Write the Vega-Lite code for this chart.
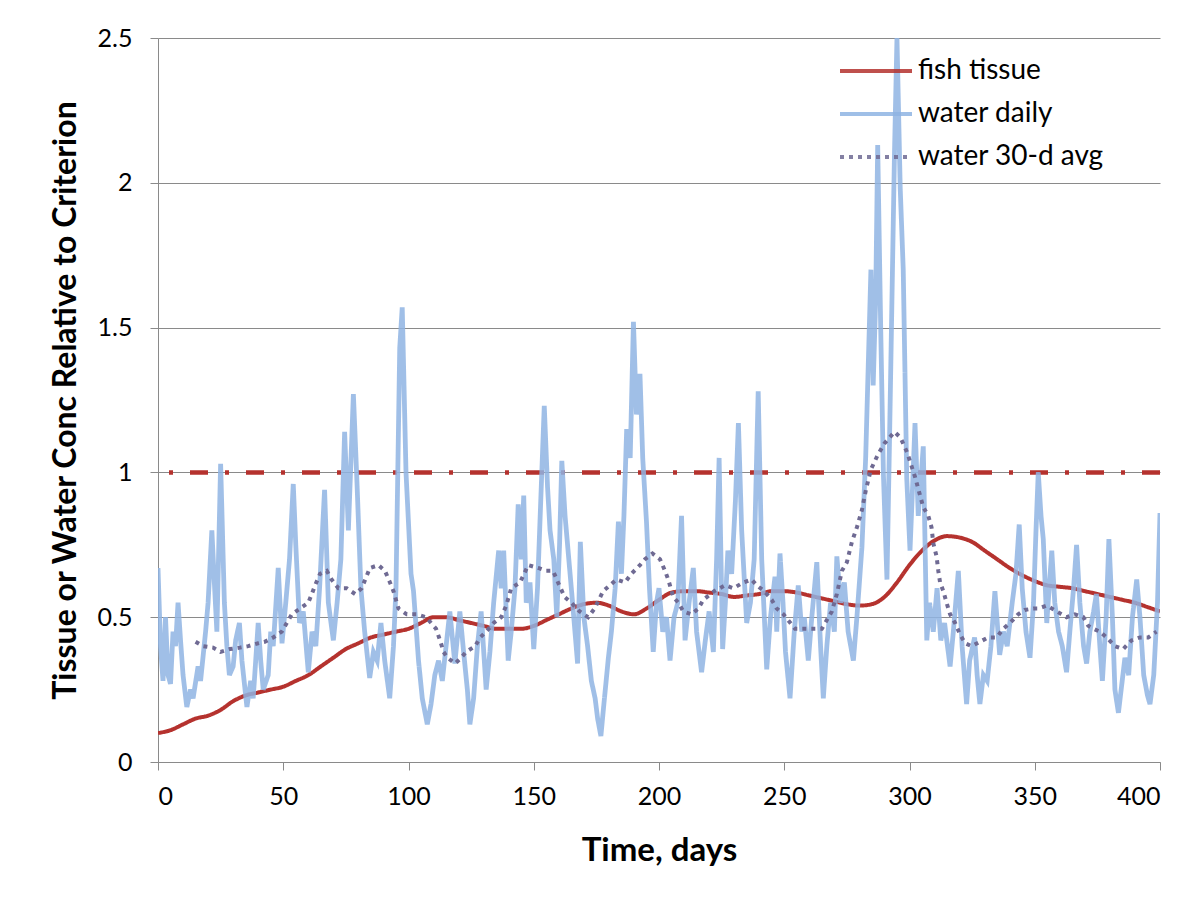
{
  "$schema": "https://vega.github.io/schema/vega-lite/v6.json",
  "width": 1002,
  "height": 724,
  "autosize": {"type": "none"},
  "padding": {"left": 158, "top": 38, "right": 44, "bottom": 137},
  "background": "white",
  "config": {
    "font": "Lato",
    "view": {"stroke": null},
    "axis": {
      "domainColor": "#8a8a8a",
      "tickColor": "#8a8a8a",
      "gridColor": "#8a8a8a",
      "labelColor": "#000000",
      "titleColor": "#000000",
      "labelFont": "Lato",
      "titleFont": "Lato",
      "labelFontSize": 25,
      "titleFontWeight": "bold",
      "tickSize": 8
    },
    "axisX": {"grid": false, "labelPadding": 14, "titlePadding": 25, "titleFontSize": 33},
    "axisY": {"grid": true, "labelPadding": 18, "titlePadding": 15, "titleFontSize": 32},
    "legend": {
      "orient": "none",
      "legendX": 704,
      "legendY": 19,
      "title": null,
      "labelFontSize": 28,
      "labelLimit": 400,
      "labelColor": "#000000",
      "labelFont": "Lato",
      "symbolType": "M-3,0H3",
      "symbolSize": 576,
      "symbolStrokeWidth": 4,
      "labelOffset": 28,
      "rowPadding": 15
    }
  },
  "datasets": {
    "criterion": [{"series": "criterion", "value": 1}],
    "fish": [
      {"series": "fish tissue", "day": 0, "value": 0.10},
      {"series": "fish tissue", "day": 5, "value": 0.11},
      {"series": "fish tissue", "day": 10, "value": 0.13},
      {"series": "fish tissue", "day": 15, "value": 0.15},
      {"series": "fish tissue", "day": 20, "value": 0.16},
      {"series": "fish tissue", "day": 25, "value": 0.18},
      {"series": "fish tissue", "day": 30, "value": 0.21},
      {"series": "fish tissue", "day": 35, "value": 0.23},
      {"series": "fish tissue", "day": 40, "value": 0.24},
      {"series": "fish tissue", "day": 45, "value": 0.25},
      {"series": "fish tissue", "day": 50, "value": 0.26},
      {"series": "fish tissue", "day": 55, "value": 0.28},
      {"series": "fish tissue", "day": 60, "value": 0.30},
      {"series": "fish tissue", "day": 65, "value": 0.33},
      {"series": "fish tissue", "day": 70, "value": 0.36},
      {"series": "fish tissue", "day": 75, "value": 0.39},
      {"series": "fish tissue", "day": 80, "value": 0.41},
      {"series": "fish tissue", "day": 85, "value": 0.43},
      {"series": "fish tissue", "day": 90, "value": 0.44},
      {"series": "fish tissue", "day": 95, "value": 0.45},
      {"series": "fish tissue", "day": 100, "value": 0.46},
      {"series": "fish tissue", "day": 105, "value": 0.48},
      {"series": "fish tissue", "day": 110, "value": 0.50},
      {"series": "fish tissue", "day": 115, "value": 0.50},
      {"series": "fish tissue", "day": 120, "value": 0.49},
      {"series": "fish tissue", "day": 125, "value": 0.48},
      {"series": "fish tissue", "day": 130, "value": 0.47},
      {"series": "fish tissue", "day": 135, "value": 0.46},
      {"series": "fish tissue", "day": 140, "value": 0.46},
      {"series": "fish tissue", "day": 145, "value": 0.46},
      {"series": "fish tissue", "day": 150, "value": 0.47},
      {"series": "fish tissue", "day": 155, "value": 0.49},
      {"series": "fish tissue", "day": 160, "value": 0.51},
      {"series": "fish tissue", "day": 165, "value": 0.53},
      {"series": "fish tissue", "day": 170, "value": 0.545},
      {"series": "fish tissue", "day": 175, "value": 0.55},
      {"series": "fish tissue", "day": 180, "value": 0.54},
      {"series": "fish tissue", "day": 185, "value": 0.52},
      {"series": "fish tissue", "day": 190, "value": 0.51},
      {"series": "fish tissue", "day": 195, "value": 0.53},
      {"series": "fish tissue", "day": 200, "value": 0.56},
      {"series": "fish tissue", "day": 205, "value": 0.585},
      {"series": "fish tissue", "day": 210, "value": 0.59},
      {"series": "fish tissue", "day": 215, "value": 0.59},
      {"series": "fish tissue", "day": 220, "value": 0.585},
      {"series": "fish tissue", "day": 225, "value": 0.58},
      {"series": "fish tissue", "day": 230, "value": 0.57},
      {"series": "fish tissue", "day": 235, "value": 0.575},
      {"series": "fish tissue", "day": 240, "value": 0.58},
      {"series": "fish tissue", "day": 245, "value": 0.59},
      {"series": "fish tissue", "day": 250, "value": 0.59},
      {"series": "fish tissue", "day": 255, "value": 0.585},
      {"series": "fish tissue", "day": 260, "value": 0.575},
      {"series": "fish tissue", "day": 265, "value": 0.565},
      {"series": "fish tissue", "day": 270, "value": 0.555},
      {"series": "fish tissue", "day": 275, "value": 0.545},
      {"series": "fish tissue", "day": 280, "value": 0.54},
      {"series": "fish tissue", "day": 285, "value": 0.545},
      {"series": "fish tissue", "day": 290, "value": 0.57},
      {"series": "fish tissue", "day": 295, "value": 0.62},
      {"series": "fish tissue", "day": 300, "value": 0.68},
      {"series": "fish tissue", "day": 305, "value": 0.73},
      {"series": "fish tissue", "day": 310, "value": 0.765},
      {"series": "fish tissue", "day": 315, "value": 0.78},
      {"series": "fish tissue", "day": 320, "value": 0.775},
      {"series": "fish tissue", "day": 325, "value": 0.76},
      {"series": "fish tissue", "day": 330, "value": 0.73},
      {"series": "fish tissue", "day": 335, "value": 0.70},
      {"series": "fish tissue", "day": 340, "value": 0.67},
      {"series": "fish tissue", "day": 345, "value": 0.645},
      {"series": "fish tissue", "day": 350, "value": 0.625},
      {"series": "fish tissue", "day": 355, "value": 0.61},
      {"series": "fish tissue", "day": 360, "value": 0.605},
      {"series": "fish tissue", "day": 365, "value": 0.60},
      {"series": "fish tissue", "day": 370, "value": 0.59},
      {"series": "fish tissue", "day": 375, "value": 0.58},
      {"series": "fish tissue", "day": 380, "value": 0.57},
      {"series": "fish tissue", "day": 385, "value": 0.56},
      {"series": "fish tissue", "day": 390, "value": 0.55},
      {"series": "fish tissue", "day": 395, "value": 0.535},
      {"series": "fish tissue", "day": 400, "value": 0.52}
    ],
    "daily": [
      {"series": "water daily", "day": 0, "value": 0.67},
      {"series": "water daily", "day": 1, "value": 0.40},
      {"series": "water daily", "day": 2, "value": 0.28},
      {"series": "water daily", "day": 3, "value": 0.50},
      {"series": "water daily", "day": 4, "value": 0.30},
      {"series": "water daily", "day": 5, "value": 0.27},
      {"series": "water daily", "day": 6, "value": 0.45},
      {"series": "water daily", "day": 7, "value": 0.40},
      {"series": "water daily", "day": 8, "value": 0.55},
      {"series": "water daily", "day": 9, "value": 0.42},
      {"series": "water daily", "day": 10, "value": 0.30},
      {"series": "water daily", "day": 11.5, "value": 0.19},
      {"series": "water daily", "day": 13, "value": 0.25},
      {"series": "water daily", "day": 14, "value": 0.22},
      {"series": "water daily", "day": 16, "value": 0.33},
      {"series": "water daily", "day": 17, "value": 0.28},
      {"series": "water daily", "day": 19, "value": 0.45},
      {"series": "water daily", "day": 20, "value": 0.55},
      {"series": "water daily", "day": 21.5, "value": 0.80},
      {"series": "water daily", "day": 22.5, "value": 0.62},
      {"series": "water daily", "day": 23.5, "value": 0.45},
      {"series": "water daily", "day": 25, "value": 1.03},
      {"series": "water daily", "day": 26.5, "value": 0.55},
      {"series": "water daily", "day": 27.5, "value": 0.40},
      {"series": "water daily", "day": 28.5, "value": 0.30},
      {"series": "water daily", "day": 30, "value": 0.33},
      {"series": "water daily", "day": 31, "value": 0.42},
      {"series": "water daily", "day": 32.5, "value": 0.48},
      {"series": "water daily", "day": 33.5, "value": 0.35},
      {"series": "water daily", "day": 35.5, "value": 0.19},
      {"series": "water daily", "day": 37, "value": 0.28},
      {"series": "water daily", "day": 38, "value": 0.22},
      {"series": "water daily", "day": 40, "value": 0.48},
      {"series": "water daily", "day": 41, "value": 0.35},
      {"series": "water daily", "day": 42, "value": 0.25},
      {"series": "water daily", "day": 44, "value": 0.30},
      {"series": "water daily", "day": 45, "value": 0.45},
      {"series": "water daily", "day": 46, "value": 0.40},
      {"series": "water daily", "day": 48, "value": 0.67},
      {"series": "water daily", "day": 49.5, "value": 0.41},
      {"series": "water daily", "day": 51, "value": 0.55},
      {"series": "water daily", "day": 52.5, "value": 0.70},
      {"series": "water daily", "day": 54, "value": 0.96},
      {"series": "water daily", "day": 55, "value": 0.75},
      {"series": "water daily", "day": 56.5, "value": 0.48},
      {"series": "water daily", "day": 58, "value": 0.52},
      {"series": "water daily", "day": 60, "value": 0.31},
      {"series": "water daily", "day": 61.5, "value": 0.45},
      {"series": "water daily", "day": 63, "value": 0.40},
      {"series": "water daily", "day": 64.5, "value": 0.60},
      {"series": "water daily", "day": 66.5, "value": 0.94},
      {"series": "water daily", "day": 68, "value": 0.55},
      {"series": "water daily", "day": 70, "value": 0.42},
      {"series": "water daily", "day": 71.5, "value": 0.55},
      {"series": "water daily", "day": 73, "value": 0.70},
      {"series": "water daily", "day": 74.5, "value": 1.14},
      {"series": "water daily", "day": 76, "value": 0.80},
      {"series": "water daily", "day": 78, "value": 1.27},
      {"series": "water daily", "day": 79.5, "value": 0.95},
      {"series": "water daily", "day": 81, "value": 0.60},
      {"series": "water daily", "day": 82.5, "value": 0.45},
      {"series": "water daily", "day": 84.5, "value": 0.29},
      {"series": "water daily", "day": 86, "value": 0.38},
      {"series": "water daily", "day": 87.5, "value": 0.35},
      {"series": "water daily", "day": 89, "value": 0.48},
      {"series": "water daily", "day": 90.5, "value": 0.35},
      {"series": "water daily", "day": 92.5, "value": 0.22},
      {"series": "water daily", "day": 94, "value": 0.40},
      {"series": "water daily", "day": 95, "value": 0.60},
      {"series": "water daily", "day": 96.5, "value": 1.43},
      {"series": "water daily", "day": 97.5, "value": 1.57},
      {"series": "water daily", "day": 99, "value": 1.00},
      {"series": "water daily", "day": 101, "value": 0.65},
      {"series": "water daily", "day": 102, "value": 0.59},
      {"series": "water daily", "day": 104, "value": 0.35},
      {"series": "water daily", "day": 105.5, "value": 0.22},
      {"series": "water daily", "day": 107.5, "value": 0.13},
      {"series": "water daily", "day": 109, "value": 0.20},
      {"series": "water daily", "day": 110.5, "value": 0.30},
      {"series": "water daily", "day": 112, "value": 0.35},
      {"series": "water daily", "day": 113.5, "value": 0.28},
      {"series": "water daily", "day": 115, "value": 0.40},
      {"series": "water daily", "day": 116.5, "value": 0.52},
      {"series": "water daily", "day": 118.5, "value": 0.34},
      {"series": "water daily", "day": 120.5, "value": 0.52},
      {"series": "water daily", "day": 122, "value": 0.38},
      {"series": "water daily", "day": 123.5, "value": 0.25},
      {"series": "water daily", "day": 124.5, "value": 0.13},
      {"series": "water daily", "day": 126, "value": 0.22},
      {"series": "water daily", "day": 127.5, "value": 0.40},
      {"series": "water daily", "day": 129, "value": 0.52},
      {"series": "water daily", "day": 131, "value": 0.25},
      {"series": "water daily", "day": 132.5, "value": 0.38},
      {"series": "water daily", "day": 134, "value": 0.55},
      {"series": "water daily", "day": 136, "value": 0.73},
      {"series": "water daily", "day": 137, "value": 0.60},
      {"series": "water daily", "day": 138, "value": 0.73},
      {"series": "water daily", "day": 139.8, "value": 0.35},
      {"series": "water daily", "day": 141, "value": 0.45},
      {"series": "water daily", "day": 142.5, "value": 0.60},
      {"series": "water daily", "day": 143.8, "value": 0.89},
      {"series": "water daily", "day": 145, "value": 0.70},
      {"series": "water daily", "day": 146, "value": 0.92},
      {"series": "water daily", "day": 147, "value": 0.55},
      {"series": "water daily", "day": 148.5, "value": 0.62},
      {"series": "water daily", "day": 150, "value": 0.39},
      {"series": "water daily", "day": 151.5, "value": 0.60},
      {"series": "water daily", "day": 153, "value": 0.95},
      {"series": "water daily", "day": 154.2, "value": 1.23},
      {"series": "water daily", "day": 155.5, "value": 0.95},
      {"series": "water daily", "day": 156.5, "value": 0.80},
      {"series": "water daily", "day": 158, "value": 0.70},
      {"series": "water daily", "day": 159.2, "value": 0.50},
      {"series": "water daily", "day": 160.3, "value": 0.75},
      {"series": "water daily", "day": 161.2, "value": 1.04},
      {"series": "water daily", "day": 162.5, "value": 0.85},
      {"series": "water daily", "day": 164, "value": 0.70},
      {"series": "water daily", "day": 165.5, "value": 0.55},
      {"series": "water daily", "day": 167.5, "value": 0.34},
      {"series": "water daily", "day": 168.6, "value": 0.76},
      {"series": "water daily", "day": 170, "value": 0.50},
      {"series": "water daily", "day": 171.5, "value": 0.40},
      {"series": "water daily", "day": 173, "value": 0.28},
      {"series": "water daily", "day": 174.5, "value": 0.22},
      {"series": "water daily", "day": 175.5, "value": 0.15},
      {"series": "water daily", "day": 176.8, "value": 0.09},
      {"series": "water daily", "day": 178, "value": 0.20},
      {"series": "water daily", "day": 179.8, "value": 0.36},
      {"series": "water daily", "day": 181, "value": 0.45},
      {"series": "water daily", "day": 182.5, "value": 0.60},
      {"series": "water daily", "day": 183.8, "value": 0.83},
      {"series": "water daily", "day": 185, "value": 0.65},
      {"series": "water daily", "day": 186, "value": 0.85},
      {"series": "water daily", "day": 187.1, "value": 1.15},
      {"series": "water daily", "day": 188.5, "value": 1.05},
      {"series": "water daily", "day": 189.8, "value": 1.52},
      {"series": "water daily", "day": 191, "value": 1.20},
      {"series": "water daily", "day": 192.4, "value": 1.34},
      {"series": "water daily", "day": 193.5, "value": 1.05},
      {"series": "water daily", "day": 195, "value": 0.83},
      {"series": "water daily", "day": 196.2, "value": 0.60},
      {"series": "water daily", "day": 197.7, "value": 0.38},
      {"series": "water daily", "day": 199, "value": 0.55},
      {"series": "water daily", "day": 200, "value": 0.60},
      {"series": "water daily", "day": 201.5, "value": 0.45},
      {"series": "water daily", "day": 203, "value": 0.50},
      {"series": "water daily", "day": 204.4, "value": 0.35},
      {"series": "water daily", "day": 206, "value": 0.50},
      {"series": "water daily", "day": 207.5, "value": 0.55},
      {"series": "water daily", "day": 209, "value": 0.85},
      {"series": "water daily", "day": 210.4, "value": 0.42},
      {"series": "water daily", "day": 212, "value": 0.55},
      {"series": "water daily", "day": 213.7, "value": 0.67},
      {"series": "water daily", "day": 215, "value": 0.45},
      {"series": "water daily", "day": 217, "value": 0.31},
      {"series": "water daily", "day": 218.5, "value": 0.42},
      {"series": "water daily", "day": 220, "value": 0.52},
      {"series": "water daily", "day": 221.7, "value": 0.38},
      {"series": "water daily", "day": 223, "value": 0.70},
      {"series": "water daily", "day": 224, "value": 1.05},
      {"series": "water daily", "day": 225.4, "value": 0.39},
      {"series": "water daily", "day": 226.5, "value": 0.55},
      {"series": "water daily", "day": 227.5, "value": 0.73},
      {"series": "water daily", "day": 229, "value": 0.65},
      {"series": "water daily", "day": 230.5, "value": 0.90},
      {"series": "water daily", "day": 231.7, "value": 1.17},
      {"series": "water daily", "day": 233, "value": 0.80},
      {"series": "water daily", "day": 235, "value": 0.48},
      {"series": "water daily", "day": 236.5, "value": 0.55},
      {"series": "water daily", "day": 238, "value": 0.70},
      {"series": "water daily", "day": 239.6, "value": 1.28},
      {"series": "water daily", "day": 241, "value": 0.70},
      {"series": "water daily", "day": 243, "value": 0.32},
      {"series": "water daily", "day": 244.5, "value": 0.50},
      {"series": "water daily", "day": 246.3, "value": 0.64},
      {"series": "water daily", "day": 247, "value": 0.45},
      {"series": "water daily", "day": 248.3, "value": 0.72},
      {"series": "water daily", "day": 249.5, "value": 0.55},
      {"series": "water daily", "day": 250.5, "value": 0.38},
      {"series": "water daily", "day": 252.3, "value": 0.22},
      {"series": "water daily", "day": 254, "value": 0.45},
      {"series": "water daily", "day": 255.6, "value": 0.61},
      {"series": "water daily", "day": 257, "value": 0.45},
      {"series": "water daily", "day": 258, "value": 0.50},
      {"series": "water daily", "day": 259.6, "value": 0.35},
      {"series": "water daily", "day": 261, "value": 0.50},
      {"series": "water daily", "day": 263, "value": 0.69},
      {"series": "water daily", "day": 264.5, "value": 0.40},
      {"series": "water daily", "day": 265.6, "value": 0.22},
      {"series": "water daily", "day": 267, "value": 0.40},
      {"series": "water daily", "day": 268.5, "value": 0.55},
      {"series": "water daily", "day": 270, "value": 0.45},
      {"series": "water daily", "day": 271, "value": 0.71},
      {"series": "water daily", "day": 272.5, "value": 0.55},
      {"series": "water daily", "day": 274, "value": 0.62},
      {"series": "water daily", "day": 275.5, "value": 0.45},
      {"series": "water daily", "day": 277.6, "value": 0.35},
      {"series": "water daily", "day": 279, "value": 0.50},
      {"series": "water daily", "day": 281, "value": 0.74},
      {"series": "water daily", "day": 282.5, "value": 1.05},
      {"series": "water daily", "day": 283.6, "value": 1.39},
      {"series": "water daily", "day": 284.6, "value": 1.70},
      {"series": "water daily", "day": 285.5, "value": 1.30},
      {"series": "water daily", "day": 286.5, "value": 1.60},
      {"series": "water daily", "day": 287.3, "value": 2.13},
      {"series": "water daily", "day": 288.5, "value": 1.50},
      {"series": "water daily", "day": 289.6, "value": 0.99},
      {"series": "water daily", "day": 291, "value": 0.63},
      {"series": "water daily", "day": 292, "value": 1.10},
      {"series": "water daily", "day": 293, "value": 1.60},
      {"series": "water daily", "day": 294, "value": 2.10},
      {"series": "water daily", "day": 295, "value": 2.50},
      {"series": "water daily", "day": 296.3, "value": 1.98},
      {"series": "water daily", "day": 297.5, "value": 1.70},
      {"series": "water daily", "day": 298.9, "value": 0.98},
      {"series": "water daily", "day": 300.2, "value": 0.73},
      {"series": "water daily", "day": 301, "value": 0.90},
      {"series": "water daily", "day": 302.2, "value": 1.17},
      {"series": "water daily", "day": 303.5, "value": 0.85},
      {"series": "water daily", "day": 305.5, "value": 1.09},
      {"series": "water daily", "day": 306.9, "value": 0.42},
      {"series": "water daily", "day": 308, "value": 0.55},
      {"series": "water daily", "day": 309.5, "value": 0.45},
      {"series": "water daily", "day": 311, "value": 0.60},
      {"series": "water daily", "day": 312.5, "value": 0.42},
      {"series": "water daily", "day": 314, "value": 0.48},
      {"series": "water daily", "day": 316.2, "value": 0.33},
      {"series": "water daily", "day": 317.5, "value": 0.45},
      {"series": "water daily", "day": 319.5, "value": 0.66},
      {"series": "water daily", "day": 321, "value": 0.40},
      {"series": "water daily", "day": 322.8, "value": 0.20},
      {"series": "water daily", "day": 324, "value": 0.35},
      {"series": "water daily", "day": 326, "value": 0.43},
      {"series": "water daily", "day": 327, "value": 0.30},
      {"series": "water daily", "day": 328.1, "value": 0.20},
      {"series": "water daily", "day": 329.5, "value": 0.30},
      {"series": "water daily", "day": 331, "value": 0.28},
      {"series": "water daily", "day": 332.5, "value": 0.40},
      {"series": "water daily", "day": 334.1, "value": 0.59},
      {"series": "water daily", "day": 336, "value": 0.37},
      {"series": "water daily", "day": 337.5, "value": 0.45},
      {"series": "water daily", "day": 339, "value": 0.40},
      {"series": "water daily", "day": 341, "value": 0.55},
      {"series": "water daily", "day": 342.5, "value": 0.65},
      {"series": "water daily", "day": 343.8, "value": 0.82},
      {"series": "water daily", "day": 345, "value": 0.60},
      {"series": "water daily", "day": 346.5, "value": 0.45},
      {"series": "water daily", "day": 348.1, "value": 0.36},
      {"series": "water daily", "day": 349.5, "value": 0.55},
      {"series": "water daily", "day": 350.5, "value": 0.80},
      {"series": "water daily", "day": 351.4, "value": 1.00},
      {"series": "water daily", "day": 352.5, "value": 0.85},
      {"series": "water daily", "day": 353.4, "value": 0.77},
      {"series": "water daily", "day": 354.8, "value": 0.48},
      {"series": "water daily", "day": 356.8, "value": 0.73},
      {"series": "water daily", "day": 358, "value": 0.55},
      {"series": "water daily", "day": 359.5, "value": 0.45},
      {"series": "water daily", "day": 361, "value": 0.40},
      {"series": "water daily", "day": 362.7, "value": 0.31},
      {"series": "water daily", "day": 364, "value": 0.45},
      {"series": "water daily", "day": 365.5, "value": 0.60},
      {"series": "water daily", "day": 366.7, "value": 0.75},
      {"series": "water daily", "day": 368, "value": 0.55},
      {"series": "water daily", "day": 369.5, "value": 0.40},
      {"series": "water daily", "day": 370.7, "value": 0.34},
      {"series": "water daily", "day": 372, "value": 0.45},
      {"series": "water daily", "day": 373.5, "value": 0.52},
      {"series": "water daily", "day": 374.6, "value": 0.58},
      {"series": "water daily", "day": 376, "value": 0.40},
      {"series": "water daily", "day": 377, "value": 0.28},
      {"series": "water daily", "day": 378.5, "value": 0.50},
      {"series": "water daily", "day": 379.6, "value": 0.77},
      {"series": "water daily", "day": 381, "value": 0.50},
      {"series": "water daily", "day": 382, "value": 0.25},
      {"series": "water daily", "day": 383.4, "value": 0.17},
      {"series": "water daily", "day": 384.5, "value": 0.25},
      {"series": "water daily", "day": 386, "value": 0.36},
      {"series": "water daily", "day": 387.5, "value": 0.30},
      {"series": "water daily", "day": 389, "value": 0.50},
      {"series": "water daily", "day": 390.7, "value": 0.63},
      {"series": "water daily", "day": 392, "value": 0.50},
      {"series": "water daily", "day": 393.5, "value": 0.30},
      {"series": "water daily", "day": 395, "value": 0.23},
      {"series": "water daily", "day": 396, "value": 0.20},
      {"series": "water daily", "day": 397.5, "value": 0.30},
      {"series": "water daily", "day": 399, "value": 0.55},
      {"series": "water daily", "day": 400, "value": 0.86}
    ],
    "avg": [
      {"series": "water 30-d avg", "day": 15, "value": 0.415},
      {"series": "water 30-d avg", "day": 18, "value": 0.40},
      {"series": "water 30-d avg", "day": 22, "value": 0.395},
      {"series": "water 30-d avg", "day": 25, "value": 0.38},
      {"series": "water 30-d avg", "day": 28.7, "value": 0.39},
      {"series": "water 30-d avg", "day": 32.7, "value": 0.395},
      {"series": "water 30-d avg", "day": 36, "value": 0.40},
      {"series": "water 30-d avg", "day": 40, "value": 0.41},
      {"series": "water 30-d avg", "day": 42.6, "value": 0.415},
      {"series": "water 30-d avg", "day": 46, "value": 0.43},
      {"series": "water 30-d avg", "day": 49.4, "value": 0.45},
      {"series": "water 30-d avg", "day": 51.4, "value": 0.48},
      {"series": "water 30-d avg", "day": 53.4, "value": 0.51},
      {"series": "water 30-d avg", "day": 56.7, "value": 0.53},
      {"series": "water 30-d avg", "day": 60, "value": 0.55},
      {"series": "water 30-d avg", "day": 61.4, "value": 0.58},
      {"series": "water 30-d avg", "day": 62.7, "value": 0.61},
      {"series": "water 30-d avg", "day": 64.7, "value": 0.65},
      {"series": "water 30-d avg", "day": 67.4, "value": 0.66},
      {"series": "water 30-d avg", "day": 69.3, "value": 0.63},
      {"series": "water 30-d avg", "day": 72, "value": 0.60},
      {"series": "water 30-d avg", "day": 75.3, "value": 0.60},
      {"series": "water 30-d avg", "day": 78.7, "value": 0.58},
      {"series": "water 30-d avg", "day": 81.3, "value": 0.60},
      {"series": "water 30-d avg", "day": 84.6, "value": 0.67},
      {"series": "water 30-d avg", "day": 88, "value": 0.68},
      {"series": "water 30-d avg", "day": 90.6, "value": 0.66},
      {"series": "water 30-d avg", "day": 92.6, "value": 0.62},
      {"series": "water 30-d avg", "day": 94, "value": 0.59},
      {"series": "water 30-d avg", "day": 96, "value": 0.53},
      {"series": "water 30-d avg", "day": 99.3, "value": 0.51},
      {"series": "water 30-d avg", "day": 103.4, "value": 0.51},
      {"series": "water 30-d avg", "day": 107, "value": 0.50},
      {"series": "water 30-d avg", "day": 111, "value": 0.46},
      {"series": "water 30-d avg", "day": 112.6, "value": 0.42},
      {"series": "water 30-d avg", "day": 114, "value": 0.38},
      {"series": "water 30-d avg", "day": 115.6, "value": 0.36},
      {"series": "water 30-d avg", "day": 118.6, "value": 0.34},
      {"series": "water 30-d avg", "day": 121, "value": 0.36},
      {"series": "water 30-d avg", "day": 123, "value": 0.38},
      {"series": "water 30-d avg", "day": 126.6, "value": 0.40},
      {"series": "water 30-d avg", "day": 128.6, "value": 0.43},
      {"series": "water 30-d avg", "day": 131, "value": 0.45},
      {"series": "water 30-d avg", "day": 134, "value": 0.48},
      {"series": "water 30-d avg", "day": 137, "value": 0.50},
      {"series": "water 30-d avg", "day": 139, "value": 0.54},
      {"series": "water 30-d avg", "day": 141, "value": 0.60},
      {"series": "water 30-d avg", "day": 144.5, "value": 0.62},
      {"series": "water 30-d avg", "day": 147.8, "value": 0.68},
      {"series": "water 30-d avg", "day": 151.8, "value": 0.67},
      {"series": "water 30-d avg", "day": 155, "value": 0.66},
      {"series": "water 30-d avg", "day": 157.7, "value": 0.66},
      {"series": "water 30-d avg", "day": 159.7, "value": 0.62},
      {"series": "water 30-d avg", "day": 162.3, "value": 0.57},
      {"series": "water 30-d avg", "day": 165, "value": 0.55},
      {"series": "water 30-d avg", "day": 168.3, "value": 0.52},
      {"series": "water 30-d avg", "day": 171.7, "value": 0.50},
      {"series": "water 30-d avg", "day": 174.3, "value": 0.53},
      {"series": "water 30-d avg", "day": 177.7, "value": 0.59},
      {"series": "water 30-d avg", "day": 180.4, "value": 0.61},
      {"series": "water 30-d avg", "day": 183, "value": 0.63},
      {"series": "water 30-d avg", "day": 186.4, "value": 0.62},
      {"series": "water 30-d avg", "day": 189, "value": 0.65},
      {"series": "water 30-d avg", "day": 192.4, "value": 0.68},
      {"series": "water 30-d avg", "day": 194.4, "value": 0.70},
      {"series": "water 30-d avg", "day": 197.4, "value": 0.72},
      {"series": "water 30-d avg", "day": 200.4, "value": 0.70},
      {"series": "water 30-d avg", "day": 202.4, "value": 0.66},
      {"series": "water 30-d avg", "day": 203.7, "value": 0.63},
      {"series": "water 30-d avg", "day": 205.7, "value": 0.57},
      {"series": "water 30-d avg", "day": 207.7, "value": 0.55},
      {"series": "water 30-d avg", "day": 209.7, "value": 0.52},
      {"series": "water 30-d avg", "day": 213, "value": 0.51},
      {"series": "water 30-d avg", "day": 215.7, "value": 0.53},
      {"series": "water 30-d avg", "day": 217.7, "value": 0.56},
      {"series": "water 30-d avg", "day": 222, "value": 0.59},
      {"series": "water 30-d avg", "day": 226.4, "value": 0.61},
      {"series": "water 30-d avg", "day": 229.7, "value": 0.60},
      {"series": "water 30-d avg", "day": 233.7, "value": 0.62},
      {"series": "water 30-d avg", "day": 237, "value": 0.63},
      {"series": "water 30-d avg", "day": 239, "value": 0.61},
      {"series": "water 30-d avg", "day": 242, "value": 0.59},
      {"series": "water 30-d avg", "day": 245, "value": 0.56},
      {"series": "water 30-d avg", "day": 247, "value": 0.53},
      {"series": "water 30-d avg", "day": 249.7, "value": 0.51},
      {"series": "water 30-d avg", "day": 254.3, "value": 0.46},
      {"series": "water 30-d avg", "day": 257.6, "value": 0.46},
      {"series": "water 30-d avg", "day": 261.6, "value": 0.46},
      {"series": "water 30-d avg", "day": 265, "value": 0.46},
      {"series": "water 30-d avg", "day": 269, "value": 0.52},
      {"series": "water 30-d avg", "day": 271, "value": 0.58},
      {"series": "water 30-d avg", "day": 273, "value": 0.66},
      {"series": "water 30-d avg", "day": 275, "value": 0.69},
      {"series": "water 30-d avg", "day": 277, "value": 0.76},
      {"series": "water 30-d avg", "day": 279, "value": 0.81},
      {"series": "water 30-d avg", "day": 281, "value": 0.87},
      {"series": "water 30-d avg", "day": 282.6, "value": 0.94},
      {"series": "water 30-d avg", "day": 284.6, "value": 1.01},
      {"series": "water 30-d avg", "day": 287.3, "value": 1.06},
      {"series": "water 30-d avg", "day": 290, "value": 1.10},
      {"series": "water 30-d avg", "day": 294, "value": 1.14},
      {"series": "water 30-d avg", "day": 296.4, "value": 1.12},
      {"series": "water 30-d avg", "day": 299, "value": 1.07},
      {"series": "water 30-d avg", "day": 302.2, "value": 0.985},
      {"series": "water 30-d avg", "day": 303.6, "value": 0.94},
      {"series": "water 30-d avg", "day": 305.5, "value": 0.88},
      {"series": "water 30-d avg", "day": 307.5, "value": 0.85},
      {"series": "water 30-d avg", "day": 308.8, "value": 0.81},
      {"series": "water 30-d avg", "day": 309.5, "value": 0.755},
      {"series": "water 30-d avg", "day": 310.8, "value": 0.71},
      {"series": "water 30-d avg", "day": 311.5, "value": 0.66},
      {"series": "water 30-d avg", "day": 312.2, "value": 0.62},
      {"series": "water 30-d avg", "day": 313.5, "value": 0.59},
      {"series": "water 30-d avg", "day": 314.8, "value": 0.55},
      {"series": "water 30-d avg", "day": 316.2, "value": 0.51},
      {"series": "water 30-d avg", "day": 318.2, "value": 0.48},
      {"series": "water 30-d avg", "day": 320.2, "value": 0.44},
      {"series": "water 30-d avg", "day": 322.2, "value": 0.41},
      {"series": "water 30-d avg", "day": 324.8, "value": 0.40},
      {"series": "water 30-d avg", "day": 328.1, "value": 0.415},
      {"series": "water 30-d avg", "day": 331.4, "value": 0.43},
      {"series": "water 30-d avg", "day": 334.8, "value": 0.43},
      {"series": "water 30-d avg", "day": 337.4, "value": 0.46},
      {"series": "water 30-d avg", "day": 340.1, "value": 0.48},
      {"series": "water 30-d avg", "day": 343.4, "value": 0.51},
      {"series": "water 30-d avg", "day": 346, "value": 0.525},
      {"series": "water 30-d avg", "day": 349.4, "value": 0.53},
      {"series": "water 30-d avg", "day": 351.4, "value": 0.53},
      {"series": "water 30-d avg", "day": 354.8, "value": 0.54},
      {"series": "water 30-d avg", "day": 358.8, "value": 0.52},
      {"series": "water 30-d avg", "day": 362.7, "value": 0.50},
      {"series": "water 30-d avg", "day": 366, "value": 0.51},
      {"series": "water 30-d avg", "day": 369.4, "value": 0.50},
      {"series": "water 30-d avg", "day": 371.4, "value": 0.47},
      {"series": "water 30-d avg", "day": 373.4, "value": 0.46},
      {"series": "water 30-d avg", "day": 376, "value": 0.45},
      {"series": "water 30-d avg", "day": 378.7, "value": 0.43},
      {"series": "water 30-d avg", "day": 382, "value": 0.40},
      {"series": "water 30-d avg", "day": 385.3, "value": 0.39},
      {"series": "water 30-d avg", "day": 388.6, "value": 0.42},
      {"series": "water 30-d avg", "day": 392, "value": 0.43},
      {"series": "water 30-d avg", "day": 395.3, "value": 0.43},
      {"series": "water 30-d avg", "day": 398.6, "value": 0.45}
    ]
  },
  "layer": [
    {
      "data": {"name": "criterion"},
      "mark": {"type": "rule", "color": "#B5322E", "strokeWidth": 4.5, "strokeDash": [18, 17, 4, 17]},
      "encoding": {
        "y": {"field": "value", "type": "quantitative", "title": "Tissue or Water Conc Relative to Criterion",
              "scale": {"domain": [0, 2.5], "nice": false},
              "axis": {"values": [0, 0.5, 1, 1.5, 2, 2.5], "format": "~g"}}
      }
    },
    {
      "data": {"name": "fish"},
      "mark": {"type": "line", "strokeWidth": 4, "interpolate": "monotone", "clip": true},
      "encoding": {
        "x": {"field": "day", "type": "quantitative", "title": "Time, days",
              "scale": {"domain": [0, 400], "nice": false},
              "axis": {"values": [0, 50, 100, 150, 200, 250, 300, 350, 400]}},
        "y": {"field": "value", "type": "quantitative", "title": "Tissue or Water Conc Relative to Criterion",
              "scale": {"domain": [0, 2.5], "nice": false},
              "axis": {"values": [0, 0.5, 1, 1.5, 2, 2.5], "format": "~g"}},
        "color": {"field": "series", "type": "nominal",
                  "scale": {"domain": ["fish tissue", "water daily", "water 30-d avg"], "range": ["#B5322E", "#8FB4E3", "#6F6A93"]},
                  "legend": {}},
        "strokeDash": {"field": "series", "type": "nominal",
                       "scale": {"domain": ["fish tissue", "water daily", "water 30-d avg"], "range": [[1, 0], [1, 0], [4, 5]]}}
      }
    },
    {
      "data": {"name": "daily"},
      "mark": {"type": "line", "strokeWidth": 4.8, "opacity": 0.85, "clip": true},
      "encoding": {
        "x": {"field": "day", "type": "quantitative", "title": "Time, days"},
        "y": {"field": "value", "type": "quantitative", "title": "Tissue or Water Conc Relative to Criterion"},
        "color": {"field": "series", "type": "nominal"},
        "strokeDash": {"field": "series", "type": "nominal"}
      }
    },
    {
      "data": {"name": "avg"},
      "mark": {"type": "line", "strokeWidth": 4, "clip": true},
      "encoding": {
        "x": {"field": "day", "type": "quantitative", "title": "Time, days"},
        "y": {"field": "value", "type": "quantitative", "title": "Tissue or Water Conc Relative to Criterion"},
        "color": {"field": "series", "type": "nominal"},
        "strokeDash": {"field": "series", "type": "nominal"}
      }
    }
  ]
}
